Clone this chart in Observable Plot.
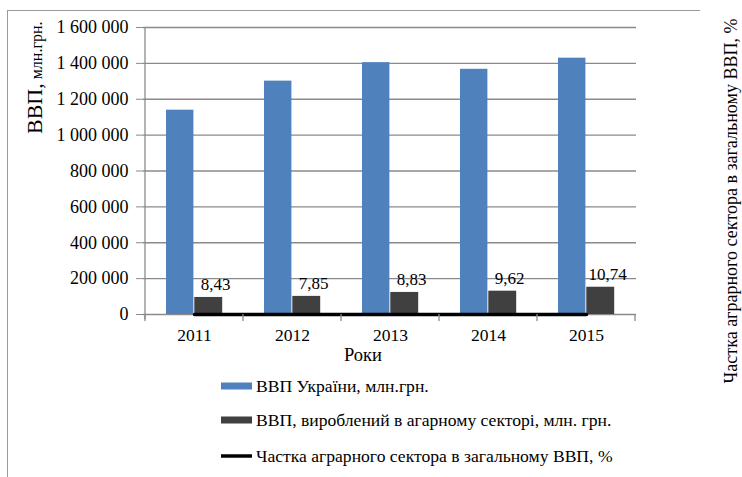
<!DOCTYPE html>
<html><head><meta charset="utf-8">
<script src="https://cdn.jsdelivr.net/npm/d3@7"></script>
<script src="https://cdn.jsdelivr.net/npm/@observablehq/plot@0.6"></script>
<style>
body{margin:0;background:#fff;}
</style>
</head><body><div id="chart"></div>
<script>
const years = ["2011", "2012", "2013", "2014", "2015"];
const gdpTotal = [1139000, 1301000, 1404000, 1367000, 1429000];
const gdpAgro = [95000, 101000, 123000, 130000, 152000];
const agroShare = [8.43, 7.85, 8.83, 9.62, 10.74];
const shareLabels = ["8,43", "7,85", "8,83", "9,62", "10,74"];
const yTicks = [0, 200000, 400000, 600000, 800000, 1000000, 1200000, 1400000, 1600000];
const seriesNames = ["ВВП України, млн.грн.", "ВВП, вироблений в агарному секторі, млн. грн.", "Частка аграрного сектора в загальному ВВП, %"];
const seriesColors = ["#4F81BD", "#404040", "#000000"];
const yTitleMain = "ВВП,";
const yTitleUnit = " млн.грн.";
const xTitle = "Роки";
const rightTitle = "Частка аграрного сектора в загальному ВВП, %";

const FONT = "'Liberation Serif', 'Times New Roman', serif";
const rows = years.map((y, i) => ({year: y, total: gdpTotal[i], agro: gdpAgro[i], share: agroShare[i], label: shareLabels[i]}));
const fmt = d => d3.format(",")(d).replace(/,/g, " ");
const gridColor = "#8a8a8a";

const plot = Plot.plot({
  width: 742, height: 477,
  marginLeft: 143, marginRight: 106, marginTop: 27, marginBottom: 163,
  style: {color: "black", background: "white", fontFamily: FONT},
  x: {domain: years, padding: 0, axis: null},
  y: {domain: [0, 1600000], axis: null},
  marks: [
    Plot.gridY(yTicks, {stroke: gridColor, strokeOpacity: 1, strokeWidth: 1.3}),
    Plot.axisY({ticks: yTicks, tickFormat: fmt, tickSize: 7, tickPadding: 8, stroke: gridColor, fill: "black", fontSize: 18, label: null}),
    Plot.axisX({tickSize: 0, tickPadding: 14, fontSize: 17.5, fill: "black", label: null}),
    Plot.barY(rows, {x: "year", y: "total", fill: seriesColors[0], insetLeft: 21, insetRight: 49.6}),
    Plot.barY(rows, {x: "year", y: "agro", fill: seriesColors[1], insetLeft: 49.3, insetRight: 20.8}),
    Plot.lineY(rows, {x: "year", y: "share", stroke: seriesColors[2], strokeWidth: 3.5}),
    Plot.text(rows, {x: "year", y: "agro", text: "label", dx: 21, dy: -13, fontSize: 17, fill: "black"}),
    Plot.text([xTitle], {frameAnchor: "bottom", dy: 46, dx: -27, fontSize: 18.5, fill: "black"})
  ]
});

const svg = d3.select(plot);
const xs = plot.scale("x");
const ys = plot.scale("y");
const y0 = ys.apply(0);
const yTop = ys.apply(yTicks[yTicks.length - 1]);
const xLeft = xs.apply(years[0]);
const xRight = xs.apply(years[years.length - 1]) + xs.bandwidth;

const g = svg.append("g").attr("text-anchor", "start");
g.append("line").attr("x1", xLeft).attr("x2", xLeft).attr("y1", yTop).attr("y2", y0 + 5).attr("stroke", gridColor).attr("stroke-width", 1.3);
years.map(y => xs.apply(y)).concat([xRight]).forEach(x => {
  g.append("line").attr("x1", x).attr("x2", x).attr("y1", y0).attr("y2", y0 + 7).attr("stroke", gridColor).attr("stroke-width", 1.3);
});
g.append("line").attr("x1", 7).attr("x2", 700).attr("y1", 10.5).attr("y2", 10.5).attr("stroke", "#9a9a9a");
g.append("line").attr("x1", 7.5).attr("x2", 7.5).attr("y1", 10).attr("y2", 477).attr("stroke", "#9a9a9a");

const yt = g.append("text").attr("transform", "translate(42,134) rotate(-90)").attr("text-anchor", "start").attr("fill", "black");
yt.append("tspan").attr("font-size", 22).text(yTitleMain);
yt.append("tspan").attr("font-size", 16).text(yTitleUnit);

g.append("text").attr("transform", "translate(737,201) rotate(-90)").attr("text-anchor", "middle").attr("font-size", 18).attr("fill", "black").text(rightTitle);

const legY = [386, 420, 456];
const legBase = [392, 426, 462];
seriesNames.forEach((name, i) => {
  if (i < 2) {
    g.append("rect").attr("x", 221).attr("y", legY[i] - 3.5).attr("width", 31).attr("height", 7).attr("fill", seriesColors[i]);
  } else {
    g.append("line").attr("x1", 221).attr("x2", 252).attr("y1", legY[i]).attr("y2", legY[i]).attr("stroke", seriesColors[i]).attr("stroke-width", 3.5);
  }
  g.append("text").attr("x", 256).attr("y", legBase[i]).attr("text-anchor", "start").attr("font-size", 17.6).attr("fill", "black").text(name);
});

svg.attr("font-family", FONT);
svg.selectAll("text, tspan").attr("font-family", FONT).style("font-family", FONT);

document.getElementById("chart").appendChild(plot);
</script>
</body></html>
